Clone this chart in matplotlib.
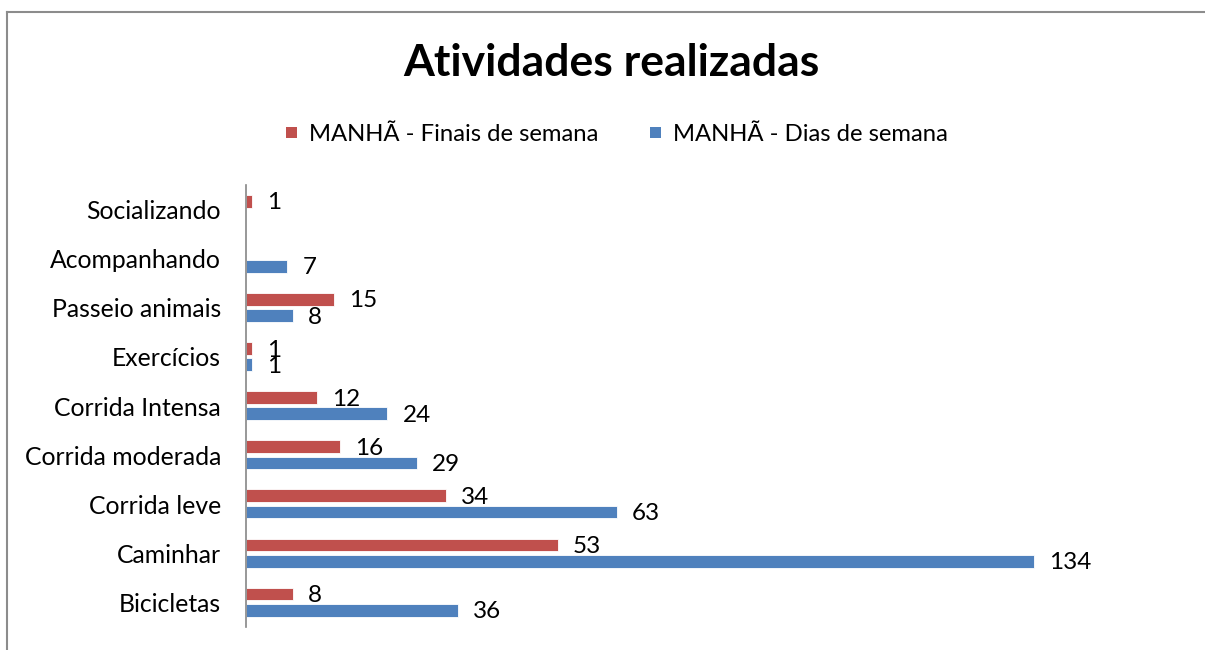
import numpy as np
import matplotlib
matplotlib.use("Agg")
import matplotlib.pyplot as plt
from matplotlib.lines import Line2D

plt.rcParams['font.family'] = ['Lato', 'DejaVu Sans']

# dados (de baixo para cima)
categorias = ['Bicicletas', 'Caminhar', 'Corrida leve', 'Corrida moderada',
              'Corrida Intensa', 'Exercícios', 'Passeio animais',
              'Acompanhando', 'Socializando']
finais_semana = [8, 53, 34, 16, 12, 1, 15, np.nan, 1]
dias_semana = [36, 134, 63, 29, 24, 1, 8, 7, np.nan]

nome_finais = 'MANHÃ - Finais de semana'
nome_dias = 'MANHÃ - Dias de semana'
cor_finais = '#C0504D'
cor_dias = '#4F81BD'

fig = plt.figure(figsize=(12.05, 6.5), dpi=100)
ax = fig.add_axes([246 / 1205, 23 / 650, 941 / 1205, 442 / 650])

y = np.arange(len(categorias))
h = 0.26
b1 = ax.barh(y + 0.17, np.nan_to_num(finais_semana), height=h, color=cor_finais,
             edgecolor='white', linewidth=0.6, label=nome_finais)
b2 = ax.barh(y - 0.16, np.nan_to_num(dias_semana), height=h, color=cor_dias,
             edgecolor='white', linewidth=0.6, label=nome_dias)

# rótulos de dados
for serie, desloc in ((finais_semana, 0.17), (dias_semana, -0.16)):
    for yi, v in zip(y, serie):
        if np.isnan(v):
            continue
        ax.annotate(f'{v:g}', (v, yi + desloc - 0.03), xytext=(11, 0),
                    textcoords='offset points', va='center', ha='left',
                    fontsize=17.5, color='black')

ax.set_xlim(0, 160)
ax.set_ylim(-0.5, len(categorias) - 0.5)
ax.set_yticks(y)
ax.set_yticklabels(categorias, fontsize=17.8)
ax.tick_params(axis='y', length=0, pad=18)
ax.set_xticks([])
for s in ('top', 'right', 'bottom'):
    ax.spines[s].set_visible(False)
ax.spines['left'].set_color('#868686')
ax.spines['left'].set_linewidth(1.2)

fig.text(0.5075, 0.903, 'Atividades realizadas', ha='center', va='center',
         fontsize=32, fontweight='bold')
leg = fig.legend(handles=[b1, b2], loc='center', bbox_to_anchor=(0.512, 0.793),
                 ncol=2, frameon=False, fontsize=17.2, handlelength=0.46,
                 handleheight=0.33, handletextpad=0.5, columnspacing=2.2)
for p in leg.get_patches():
    p.set_linewidth(0)

# borda do gráfico (só topo e esquerda aparecem)
fig.add_artist(Line2D([6.5 / 1205, 6.5 / 1205], [0, 1 - 11.5 / 650],
                      transform=fig.transFigure, color='#8c8c8c', lw=1.5))
fig.add_artist(Line2D([6.5 / 1205, 1], [1 - 11.5 / 650, 1 - 11.5 / 650],
                      transform=fig.transFigure, color='#8c8c8c', lw=1.5))

fig.savefig('out.png', dpi=100, facecolor='white')
